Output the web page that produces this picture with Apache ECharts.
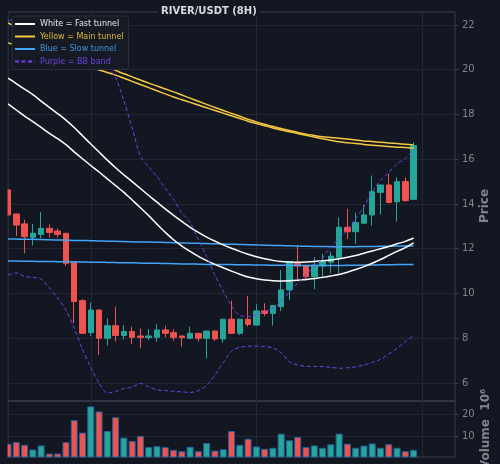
<!DOCTYPE html>
<html>
<head>
<meta charset="utf-8">
<script src="https://cdn.jsdelivr.net/npm/echarts@6/dist/echarts.min.js"></script>
<style>
html,body{margin:0;padding:0;background:#131722;}
#main{width:500px;height:464px;}
</style>
</head>
<body>
<div id="main"></div>
<script>
// candles (8H)
var opens  = [14.63,13.55,13.11,12.51,12.64,12.91,12.79,12.69,11.42,9.68, 8.25,9.26,8.00,8.56,8.12,8.30,8.10,8.03,8.04,8.37, 8.25,8.10,8.00,8.22,8.00,8.32,7.97,8.85,8.22,8.85, 8.59,9.22,9.11,9.41,10.16,11.39,11.23,10.75,11.23,11.40, 11.62,12.96,12.76,13.14,13.51,14.52,14.85,14.10,15.00,14.21];
var closes = [13.51,13.06,12.54,12.69,12.91,12.73,12.64,11.35,9.64,8.22, 9.26,8.00,8.56,8.12,8.30,8.04,8.04,8.10,8.37,8.22, 8.04,8.03,8.22,8.00,8.32,7.97,8.85,8.22,8.85,8.62, 9.22,9.11,9.46,10.16,11.42,11.23,10.75,11.27,11.42,11.67, 12.96,12.76,13.17,13.51,14.55,14.85,14.07,15.00,14.15,16.61];
var lows   = [13.50,12.57,11.80,12.14,12.47,12.50,12.50,11.23,8.67,8.19, 8.10,7.25,7.67,7.85,7.95,7.73,7.55,7.92,7.85,8.04, 7.89,7.62,7.99,7.85,7.10,7.88,7.80,8.19,8.15,8.52, 8.56,8.99,8.56,9.22,9.71,10.63,10.56,10.19,10.72,10.90, 10.90,12.44,12.21,13.11,13.03,13.54,14.03,13.21,14.10,14.20];
var highs  = [14.65,13.57,13.29,13.11,13.63,13.09,12.91,12.70,11.42,9.75, 9.59,9.27,8.89,9.41,8.59,8.52,8.44,8.40,8.62,8.56, 8.40,8.12,8.52,8.24,8.34,8.34,8.87,9.68,8.87,9.89, 9.52,9.56,9.47,11.05,11.43,12.12,11.25,11.62,11.77,11.87, 13.40,13.78,13.61,13.96,15.27,14.86,15.34,15.19,15.18,16.76];
// volume in millions
var volumes = [6.67,7.42,6.21,4.09,5.91,2.27,2.27,7.42,17.3,11.7, 23.5,21.2,12.4,18.6,9.4,7.9,10.2,5.15,5.6,5.15, 3.9,3.3,5.3,3.3,7.0,3.6,4.2,12.4,6.2,8.9, 5.45,4.4,4.85,11.2,8.2,9.7,5.15,5.9,4.85,6.4, 11.2,6.7,4.85,5.8,6.8,4.85,6.5,4.85,3.3,3.9];

// tunnels
var fastUpper = [19.63,19.38,19.13,18.89,18.60,18.32,18.04,17.75,17.42,17.05, 16.68,16.32,15.96,15.62,15.30,15.00,14.69,14.38,14.08,13.78, 13.49,13.22,12.96,12.73,12.52,12.34,12.17,12.02,11.88,11.75, 11.64,11.55,11.48,11.43,11.41,11.40,11.41,11.43,11.46,11.50, 11.55,11.62,11.70,11.80,11.90,12.00,12.10,12.22,12.33,12.48];
var fastLower = [18.47,18.20,17.93,17.68,17.42,17.16,16.92,16.65,16.33,16.02, 15.72,15.43,15.12,14.82,14.52,14.18,13.83,13.48,13.10,12.73, 12.40,12.12,11.88,11.66,11.47,11.30,11.15,11.00,10.86,10.74, 10.66,10.60,10.57,10.56,10.57,10.59,10.62,10.67,10.72,10.78, 10.85,10.95,11.07,11.20,11.35,11.52,11.70,11.88,12.05,12.26];
var mainA = [22.09,21.92,21.75,21.58,21.41,21.25,21.08,20.92,20.76,20.60, 20.44,20.28,20.12,19.97,19.82,19.68,19.54,19.40,19.27,19.14, 19.01,18.87,18.73,18.59,18.45,18.31,18.18,18.05,17.92,17.79, 17.67,17.56,17.46,17.37,17.28,17.20,17.12,17.06,17.00,16.97, 16.94,16.90,16.86,16.82,16.79,16.76,16.73,16.70,16.67,16.64];
var mainB = [21.20,21.09,20.98,20.87,20.76,20.65,20.54,20.43,20.32,20.21, 20.10,19.99,19.88,19.76,19.62,19.48,19.34,19.20,19.06,18.92, 18.78,18.66,18.54,18.42,18.30,18.18,18.06,17.94,17.82,17.70, 17.60,17.50,17.40,17.31,17.23,17.15,17.07,16.99,16.92,16.85, 16.78,16.74,16.70,16.66,16.63,16.60,16.57,16.54,16.52,16.49];
var slowUpper = [12.44,12.43,12.42,12.42,12.41,12.40,12.39,12.38,12.37,12.37, 12.36,12.35,12.34,12.33,12.32,12.31,12.30,12.30,12.29,12.28, 12.27,12.26,12.25,12.24,12.23,12.22,12.21,12.20,12.19,12.18, 12.17,12.16,12.15,12.14,12.13,12.12,12.11,12.10,12.10,12.09, 12.09,12.09,12.09,12.10,12.10,12.11,12.11,12.12,12.12,12.13];
var slowLower = [11.45,11.45,11.44,11.44,11.43,11.43,11.42,11.42,11.41,11.41, 11.40,11.40,11.39,11.38,11.37,11.37,11.36,11.35,11.35,11.34, 11.33,11.32,11.32,11.31,11.30,11.30,11.29,11.29,11.28,11.28, 11.27,11.27,11.26,11.26,11.26,11.25,11.25,11.25,11.25,11.25, 11.25,11.26,11.26,11.27,11.27,11.28,11.28,11.29,11.29,11.30];
var bbUpper = [22.20,22.25,22.30,22.30,22.30,22.25,22.10,21.90,21.60,21.20, 20.80,20.40,20.10,19.65,18.60,17.40,16.14,15.65,15.23,14.70, 14.20,13.60,13.17,12.40,11.65,10.82,10.10,9.45,9.02,8.97, 9.05,9.20,9.34,9.65,10.05,10.46,10.85,11.21,11.57,12.10, 12.45,12.84,13.35,13.88,14.55,15.05,15.40,15.80,16.03,16.47];
var bbLower = [10.83,10.92,10.76,10.72,10.65,10.25,9.80,9.25,8.45,7.50, 6.70,6.00,5.55,5.62,5.75,5.81,5.98,5.83,5.69,5.66, 5.63,5.60,5.58,5.66,5.90,6.35,6.90,7.42,7.60,7.64, 7.65,7.63,7.57,7.35,6.95,6.80,6.75,6.74,6.73,6.70, 6.66,6.68,6.72,6.80,6.92,7.05,7.30,7.55,7.85,8.12];

var priceTicks = [6, 8, 10, 12, 14, 16, 18, 20, 22];
var volumeTicks = [10, 20];

var BG = '#131722', UP = '#26a69a', DOWN = '#ef5350';
var GRIDC = '#232733', SPINE = '#3d414c', TXT = '#80838d';

// 50 candles plus room on the right
var cats = [];
for (var i = 0; i < 55; i++) cats.push(String(i));

var ohlc = [], vols = [];
for (var i = 0; i < opens.length; i++) {
    ohlc.push([opens[i], closes[i], lows[i], highs[i]]);
    vols.push({value: volumes[i], itemStyle: {color: closes[i] >= opens[i] ? UP : DOWN}});
}

var N_WHITE = 'White = Fast tunnel', N_YELLOW = 'Yellow = Main tunnel',
    N_BLUE = 'Blue = Slow tunnel', N_PURPLE = 'Purple = BB band';

function line(name, data, color, width, type) {
    return {
        name: name, type: 'line', data: data, xAxisIndex: 0, yAxisIndex: 0,
        symbol: 'none', showSymbol: false, silent: true, z: 3, smooth: 0.3,
        lineStyle: {color: color, width: width, type: type || 'solid'}
    };
}

function xAx(gi) {
    return {
        type: 'category', gridIndex: gi, data: cats, boundaryGap: false,
        axisLine: {show: false}, axisTick: {show: false}, axisLabel: {show: false},
        splitLine: {show: true, interval: function (idx) { return idx % 20 === 10; },
            lineStyle: {color: GRIDC, width: 1}}
    };
}

var chart = echarts.init(document.getElementById('main'));
chart.setOption({
    backgroundColor: BG,
    animation: false,
    textStyle: {fontFamily: 'DejaVu Sans'},
    title: {
        text: 'RIVER/USDT (8H)', left: 158, top: 5, padding: [1, 3],
        backgroundColor: BG,
        textStyle: {color: '#d8dae0', fontSize: 10, fontWeight: 'bold', fontFamily: 'DejaVu Sans'}
    },
    legend: {
        left: 12, top: 16, orient: 'vertical', z: 10,
        itemWidth: 20, itemHeight: 8, itemGap: 4.5,
        padding: [4, 5, 4, 2],
        backgroundColor: '#161a24', borderColor: '#2c303b', borderWidth: 1, borderRadius: 3,
        lineStyle: {width: 2},
        itemStyle: {opacity: 0},
        textStyle: {fontSize: 8, fontFamily: 'DejaVu Sans'},
        data: [
            {name: N_WHITE, textStyle: {color: '#e6e6e6'}},
            {name: N_YELLOW, textStyle: {color: '#e0b83a'}},
            {name: N_BLUE, textStyle: {color: '#3f95dc'}},
            {name: N_PURPLE, textStyle: {color: '#6a44dc'}}
        ]
    },
    grid: [
        {left: 8, right: 45, top: 12, height: 389, show: true, borderColor: SPINE, borderWidth: 1, backgroundColor: 'transparent'},
        {left: 8, right: 45, top: 401, height: 56, show: true, borderColor: SPINE, borderWidth: 1, backgroundColor: 'transparent'}
    ],
    xAxis: [xAx(0), xAx(1)],
    yAxis: [
        {
            type: 'value', gridIndex: 0, position: 'right', min: 5.195, max: 22.58,
            axisLine: {show: false},
            axisTick: {show: true, length: 3.5, lineStyle: {color: SPINE}, customValues: priceTicks},
            axisLabel: {color: TXT, fontSize: 10, margin: 7, customValues: priceTicks},
            splitLine: {show: true, lineStyle: {color: GRIDC, width: 1}}
        },
        {
            type: 'value', gridIndex: 1, position: 'right', min: 0.7, max: 25.9,
            axisLine: {show: false},
            axisTick: {show: true, length: 3.5, lineStyle: {color: SPINE}, customValues: volumeTicks},
            axisLabel: {color: TXT, fontSize: 10, margin: 7, customValues: volumeTicks},
            splitLine: {show: true, lineStyle: {color: GRIDC, width: 1}}
        }
    ],
    graphic: [
        // hide the half of the first candle that falls left of the frame
        {type: 'rect', shape: {x: 0, y: 0, width: 7.5, height: 464}, style: {fill: BG}, z: 50, silent: true},
        {type: 'text', x: 485, y: 206, rotation: Math.PI / 2,
         style: {text: 'Price', fill: TXT, font: 'bold 12px "DejaVu Sans"', align: 'center', verticalAlign: 'middle'}},
        {type: 'text', x: 486, y: 429, rotation: Math.PI / 2,
         style: {text: 'Volume  10\u2076', fill: TXT, font: 'bold 12px "DejaVu Sans"', align: 'center', verticalAlign: 'middle'}}
    ],
    series: [
        {
            type: 'candlestick', name: 'RIVER', xAxisIndex: 0, yAxisIndex: 0, data: ohlc,
            barWidth: 6, clip: true, silent: true, z: 2,
            itemStyle: {color: UP, color0: DOWN, borderColor: UP, borderColor0: DOWN, borderWidth: 1}
        },
        {
            type: 'bar', name: 'Volume', xAxisIndex: 1, yAxisIndex: 1, data: vols,
            barWidth: 7, silent: true,
            itemStyle: {borderColor: '#23619a', borderWidth: 1}
        },
        line(N_BLUE, slowUpper, '#42a5f5', 1.5),
        line(N_BLUE, slowLower, '#42a5f5', 1.5),
        line(N_YELLOW, mainA, '#f5c842', 1.5),
        line(N_YELLOW, mainB, '#f5c842', 1.5),
        line(N_WHITE, fastUpper, '#ffffff', 1.5),
        line(N_WHITE, fastLower, '#ffffff', 1.5),
        line(N_PURPLE, bbUpper, '#6f42e8', 1, [4, 2.5]),
        line(N_PURPLE, bbLower, '#6f42e8', 1, [4, 2.5])
    ]
});
</script>
</body>
</html>
